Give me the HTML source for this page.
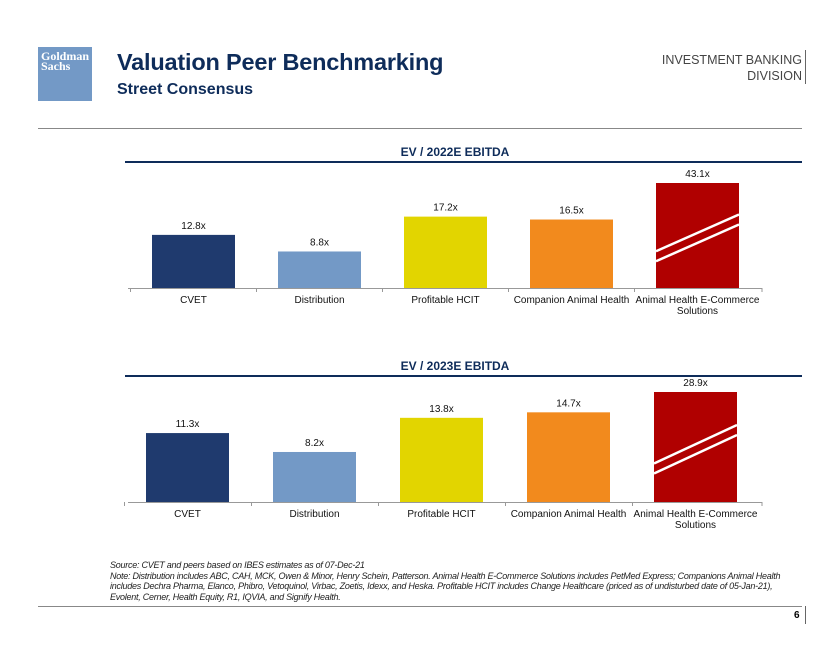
<!DOCTYPE html>
<html><head><meta charset="utf-8"><style>
body{margin:0;width:840px;height:649px;background:#fff;position:relative;overflow:hidden;font-family:"Liberation Sans",Arial,sans-serif}
.abs{position:absolute}
</style></head><body>
<div class="abs" style="left:38px;top:47px;width:54px;height:54px;background:#7399c6;color:#fff;font-family:'Liberation Serif',serif;font-weight:bold;font-size:12px;line-height:10px;padding:4px 0 0 3px;box-sizing:border-box">Goldman<br>Sachs</div>
<div class="abs" style="left:117px;top:49px;font-size:23.5px;font-weight:bold;color:#0e2c5a;letter-spacing:-0.2px">Valuation Peer Benchmarking</div>
<div class="abs" style="left:117px;top:81px;font-size:16px;font-weight:bold;color:#0e2c5a">Street Consensus</div>
<div class="abs" style="right:38px;top:52px;text-align:right;font-size:12.5px;color:#444;line-height:16px">INVESTMENT BANKING<br>DIVISION</div>
<div class="abs" style="left:805px;top:50px;width:1px;height:34px;background:#666"></div>
<div class="abs" style="left:38px;top:128px;width:764px;height:1px;background:#888"></div>
<svg class="abs" style="left:0;top:0" width="840" height="560" id="charts"></svg>
<div class="abs" style="left:110px;top:560px;font-size:9px;font-style:italic;color:#222;line-height:10.7px;letter-spacing:-0.25px;white-space:nowrap">Source: CVET and peers based on IBES estimates as of 07-Dec-21<br>Note: Distribution includes ABC, CAH, MCK, Owen &amp; Minor, Henry Schein, Patterson. Animal Health E-Commerce Solutions includes PetMed Express; Companions Animal Health<br>includes Dechra Pharma, Elanco, Phibro, Vetoquinol, Virbac, Zoetis, Idexx, and Heska. Profitable HCIT includes Change Healthcare (priced as of undisturbed date of 05-Jan-21),<br>Evolent, Cerner, Health Equity, R1, IQVIA, and Signify Health.</div>
<div class="abs" style="left:38px;top:606px;width:764px;height:1px;background:#888"></div>
<div class="abs" style="left:794px;top:610px;font-size:10px;font-weight:bold">6</div>
<div class="abs" style="left:805px;top:606px;width:1px;height:18px;background:#666"></div>
<script>
const categories=["CVET","Distribution","Profitable HCIT","Companion Animal Health","Animal Health E-Commerce|Solutions"];
const values2022=[12.8,8.8,17.2,16.5,43.1];
const values2023=[11.3,8.2,13.8,14.7,28.9];
const colors=["#1f3a6e","#7399c6","#e2d500","#f28a1d","#b00000"];
const NS="http://www.w3.org/2000/svg";
const svg=document.getElementById('charts');
function mk(t,a){const e=document.createElementNS(NS,t);for(const k in a)e.setAttribute(k,a[k]);svg.appendChild(e);return e;}
function chart(title,vals,titleY,base,x0,step,scale,cap,capH,nm){
  let t=mk('text',{x:455,y:titleY-6,'text-anchor':'middle','font-size':12,'font-weight':'bold',fill:'#0e2c5a'});t.textContent=title;
  
  
  let l=mk('line',{x1:125,x2:802,y1:titleY,y2:titleY,stroke:'#0e2c5a','stroke-width':2});
  
  
  let ax=mk('line',{x1:128,x2:762,y1:base+0.5,y2:base+0.5,stroke:'#999','stroke-width':1});
  
  
  vals.forEach((v,i)=>{
    const bw=83,x=x0+i*step;
    const h=v>cap?capH:v*scale;
    const r=mk('rect',{x:x,y:base-h,width:bw,height:h,fill:colors[i]});
    
    
    if(v>cap){
      for(const d of [0,10]){
        const ln=mk('line',{x1:x,x2:x+bw,y1:base-h*0.35+d,y2:base-h*0.70+d,stroke:'#fff','stroke-width':2.5});
        
        
      }
    }
    const lb=mk('text',{x:x+bw/2,y:base-h-6,'text-anchor':'middle','font-size':10,fill:'#111'});lb.textContent=v.toFixed(1)+'x';
    
    
    const tk=mk('line',{x1:x-21.5,x2:x-21.5,y1:base,y2:base+4,stroke:'#999'});
    
    
    categories[i].split('|').forEach((s,j)=>{
      const c=mk('text',{x:x+bw/2,y:base+15+j*11,'text-anchor':'middle','font-size':10,fill:'#111'});c.textContent=s;
      
      
    });
  });
  const tk=mk('line',{x1:762,x2:762,y1:base,y2:base+4,stroke:'#999'});
  
  
}
chart('EV / 2022E EBITDA',values2022,162,288,152,126,4.15,30,105,'chart-2022');
chart('EV / 2023E EBITDA',values2023,376,502,146,127,6.1,25,110,'chart-2023');
</script>
</body></html>
